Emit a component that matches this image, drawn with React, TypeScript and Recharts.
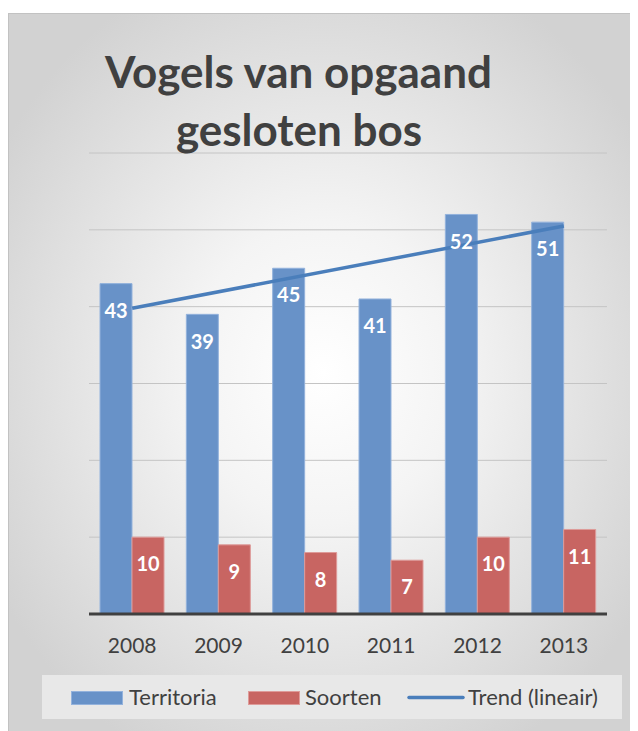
import React from "react";
import { ComposedChart, Bar, Line, XAxis, YAxis, CartesianGrid, LabelList } from "recharts";

const years = ["2008", "2009", "2010", "2011", "2012", "2013"];
const territoria = [43, 39, 45, 41, 52, 51];
const soorten = [10, 9, 8, 7, 10, 11];
// linear trend: start and end points only
const trend: (number | null)[] = [39.8, null, null, null, null, 50.5];
const yTicks = [0, 10, 20, 30, 40, 50, 60];
const titleLines = ["Vogels van opgaand", "gesloten bos"];
const seriesNames = ["Territoria", "Soorten", "Trend (lineair)"];

const BLUE = "#6892c8";
const BLUE_EDGE = "#93b2dc";
const RED = "#c86562";
const RED_EDGE = "#de9b99";
const TREND = "#4a7ebb";
const TEXT = "#404040";
const FONT = "Lato, 'Open Sans', sans-serif";

const data = years.map((y, i) => ({
  year: y,
  territoria: territoria[i],
  soorten: soorten[i],
  trend: trend[i],
}));

const Tick = (props: any) => {
  const { x, y, payload } = props;
  return (
    <text x={x} y={y + 31} textAnchor="middle" fill={TEXT} fontSize={21} fontFamily={FONT}>
      {payload.value}
    </text>
  );
};

export default function App() {
  return (
    <div
      style={{
        position: "relative",
        width: 630,
        height: 718,
        marginTop: 5,
        boxSizing: "border-box",
        borderTop: "1px solid #c2c2c2",
        borderLeft: "1px solid #c2c2c2",
        background:
          "radial-gradient(ellipse 60% 60% at 50% 50%, #ffffff 0%, #f4f4f4 35%, #d2d2d2 100%)",
        fontFamily: FONT,
      }}
    >
      <div style={{ position: "absolute", left: 0, top: 0 }}>
        <ComposedChart
          width={630}
          height={718}
          data={data}
          margin={{ top: 139, right: 32, bottom: 78, left: 80 }}
          barGap={0}
          barCategoryGap={11}
        >
          <CartesianGrid vertical={false} stroke="#c4c4c4" strokeWidth={1} />
          <YAxis hide domain={[0, 60]} ticks={yTicks} width={0} />
          <XAxis
            dataKey="year"
            height={40}
            tickLine={false}
            axisLine={{ stroke: TEXT, strokeWidth: 3 }}
            tick={<Tick />}
            interval={0}
          />
          <Bar dataKey="territoria" fill={BLUE} stroke={BLUE_EDGE} strokeWidth={1} barSize={32} isAnimationActive={false}>
            <LabelList dataKey="territoria" position="insideTop" offset={20} fill="#ffffff" fontSize={20} fontWeight="bold" fontFamily={FONT} />
          </Bar>
          <Bar dataKey="soorten" fill={RED} stroke={RED_EDGE} strokeWidth={1} barSize={32} isAnimationActive={false}>
            <LabelList dataKey="soorten" position="insideTop" offset={20} fill="#ffffff" fontSize={20} fontWeight="bold" fontFamily={FONT} />
          </Bar>
          <Line
            dataKey="trend"
            type="linear"
            stroke={TREND}
            strokeWidth={3.5}
            dot={false}
            activeDot={false}
            connectNulls
            isAnimationActive={false}
          />
        </ComposedChart>
      </div>

      <svg
        width={630}
        height={150}
        style={{ position: "absolute", left: 0, top: 0, pointerEvents: "none" }}
      >
        <text x={289.5} y={74} textAnchor="middle" fill={TEXT} fontSize={44} fontWeight="bold" fontFamily={FONT}>
          {titleLines[0]}
        </text>
        <text x={290} y={132} textAnchor="middle" fill={TEXT} fontSize={44} fontWeight="bold" fontFamily={FONT}>
          {titleLines[1]}
        </text>
      </svg>

      <div
        style={{
          position: "absolute",
          left: 33,
          top: 661,
          width: 580,
          height: 44,
          background: "#e8e8e8",
        }}
      >
        <svg width={580} height={44}>
          <rect x={29.5} y={16.5} width={51} height={13} fill={BLUE} stroke={BLUE_EDGE} />
          <text x={87} y={30} fill={TEXT} fontSize={22} fontFamily={FONT}>{seriesNames[0]}</text>
          <rect x={206.5} y={16.5} width={51} height={13} fill={RED} stroke={RED_EDGE} />
          <text x={263} y={30} fill={TEXT} fontSize={22} fontFamily={FONT}>{seriesNames[1]}</text>
          <line x1={367} y1={22.5} x2={421} y2={22.5} stroke={TREND} strokeWidth={3.5} strokeLinecap="round" />
          <text x={426} y={30} fill={TEXT} fontSize={22} fontFamily={FONT}>{seriesNames[2]}</text>
        </svg>
      </div>
    </div>
  );
}
